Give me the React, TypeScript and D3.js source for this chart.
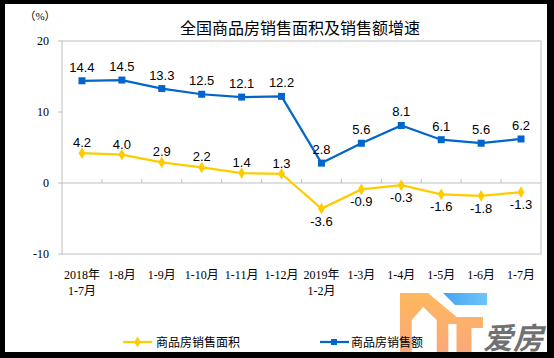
import React from "react";
import * as d3 from "d3";

const categories: string[][] = [
  ["2018年", "1-7月"], ["1-8月"], ["1-9月"], ["1-10月"], ["1-11月"], ["1-12月"],
  ["2019年", "1-2月"], ["1-3月"], ["1-4月"], ["1-5月"], ["1-6月"], ["1-7月"],
];
const salesAmount = [14.4, 14.5, 13.3, 12.5, 12.1, 12.2, 2.8, 5.6, 8.1, 6.1, 5.6, 6.2];
const salesArea = [4.2, 4.0, 2.9, 2.2, 1.4, 1.3, -3.6, -0.9, -0.3, -1.6, -1.8, -1.3];
const yTicks = [20, 10, 0, -10];
const title = "全国商品房销售面积及销售额增速";
const unitLabel = "（%）";
const legendArea = "商品房销售面积";
const legendAmount = "商品房销售额";

const W = 554, H = 358;
const L = 62, R = 541, T = 41, B = 254;
const BLUE = "#0066CC";
const YELLOW = "#FFCC00";
const AXIS = "#BFBFBF";
const serif = "'Liberation Serif', 'Noto Sans CJK SC', serif";
const cjk = "'Noto Sans CJK SC', sans-serif";
const arial = "'Liberation Sans', Arial, sans-serif";

export default function App() {
  const x = d3.scaleBand<number>().domain(d3.range(categories.length)).range([L, R]).padding(0);
  const y = d3.scaleLinear().domain([-10, 20]).range([B, T]);
  const cx = (i: number) => (x(i) as number) + x.bandwidth() / 2;
  const line = d3.line<number>().x((_, i) => cx(i)).y((d) => y(d));
  const y0 = y(0);

  return (
    <svg width={W} height={H} style={{ position: "absolute", left: 0, top: 0 }}>
      <defs>
        <linearGradient id="og" x1="0" y1="0" x2="0" y2="1">
          <stop offset="0" stopColor="#FFB85E" />
          <stop offset="1" stopColor="#FBA87A" />
        </linearGradient>
        <linearGradient id="bg" x1="0" y1="0" x2="1" y2="0">
          <stop offset="0" stopColor="#45A4F0" />
          <stop offset="1" stopColor="#70C4FA" />
        </linearGradient>
      </defs>
      <rect x={0} y={0} width={W} height={H} fill="#000" />
      <rect x={5} y={4} width={542} height={348} fill="#fff" />

      {/* watermark logo */}
      <g>
        <polygon
          points="400,293 428,293 456.5,317 483,317 483,328 471.5,328 471.5,352 456.5,352 456.5,324 448.3,324 448.3,352 436.7,352 436.7,320 423.3,307 411.7,320 411.7,352 400,352"
          fill="url(#og)"
        />
        <polygon points="443,293 487,293 487,305 455,305" fill="url(#bg)" />
        <text x={483} y={349} fontSize={30} fontWeight="bold" fontStyle="italic" fill="#707070" fontFamily={cjk}>爱房</text>
      </g>

      <text x={40} y={20} fontSize={11} fontFamily={serif} textAnchor="middle" fill="#000">{unitLabel}</text>
      <text x={300} y={34} fontSize={16} fontFamily={cjk} textAnchor="middle" fill="#000">{title}</text>

      {/* plot box */}
      <rect x={L} y={T} width={R - L} height={B - T} fill="none" stroke={AXIS} strokeWidth={1} />
      {yTicks.map((t) => (
        <g key={t}>
          <line x1={L - 4} x2={L} y1={y(t)} y2={y(t)} stroke={AXIS} />
          <text x={49} y={y(t) + 4} fontSize={12} fontFamily={serif} textAnchor="end" fill="#000">{t}</text>
        </g>
      ))}
      <line x1={L} x2={R} y1={y0} y2={y0} stroke={AXIS} />
      {categories.map((_, i) => i > 0 ? (
        <line key={i} x1={x(i) as number} x2={x(i) as number} y1={y0 - 4} y2={y0} stroke={AXIS} />
      ) : null)}

      {categories.map((lines, i) => (
        <text key={i} fontSize={12} fontFamily={serif} textAnchor="middle" fill="#000">
          {lines.map((s, k) => (
            <tspan key={k} x={cx(i)} y={279 + k * 16}>{s}</tspan>
          ))}
        </text>
      ))}

      {/* series */}
      <path d={line(salesAmount) as string} fill="none" stroke={BLUE} strokeWidth={2.25} />
      {salesAmount.map((v, i) => (
        <rect key={i} x={cx(i) - 3.5} y={y(v) - 3.5} width={7} height={7} fill={BLUE} />
      ))}
      <path d={line(salesArea) as string} fill="none" stroke={YELLOW} strokeWidth={2.25} />
      {salesArea.map((v, i) => (
        <path key={i} d={d3.symbol(d3.symbolDiamond, 40)() as string} transform={`translate(${cx(i)},${y(v)})`} fill={YELLOW} />
      ))}

      {salesAmount.map((v, i) => (
        <text key={i} x={cx(i)} y={y(v) - 9} fontSize={13} fontFamily={arial} textAnchor="middle" fill="#000">{v.toFixed(1)}</text>
      ))}
      {salesArea.map((v, i) => (
        <text key={i} x={cx(i)} y={v >= 0 ? y(v) - 6 : y(v) + 17} fontSize={13} fontFamily={arial} textAnchor="middle" fill="#000">{v.toFixed(1)}</text>
      ))}

      {/* legend */}
      <line x1={123} x2={152} y1={342} y2={342} stroke={YELLOW} strokeWidth={2.25} />
      <path d={d3.symbol(d3.symbolDiamond, 36)() as string} transform="translate(137.5,342)" fill={YELLOW} />
      <text x={156} y={347} fontSize={12} fontFamily={cjk} fill="#000">{legendArea}</text>
      <line x1={320} x2={349} y1={342} y2={342} stroke={BLUE} strokeWidth={2.25} />
      <rect x={331} y={339} width={6} height={6} fill={BLUE} />
      <text x={351} y={347} fontSize={12} fontFamily={cjk} fill="#000">{legendAmount}</text>
    </svg>
  );
}
